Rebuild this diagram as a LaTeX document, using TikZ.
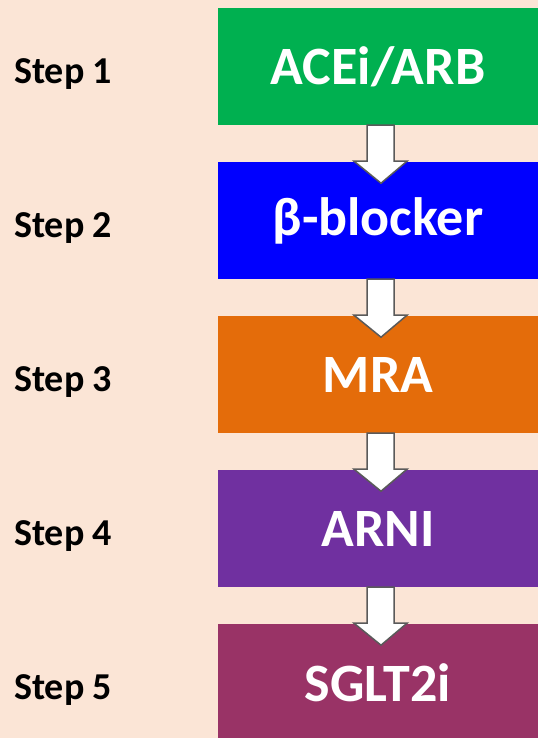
\documentclass[tikz,border=0pt]{standalone}
\usepackage{fontspec}
\setmainfont{Carlito}
\definecolor{bgc}{RGB}{251,229,214}
\definecolor{c1}{RGB}{0,176,80}
\definecolor{c2}{RGB}{0,0,255}
\definecolor{c3}{RGB}{228,108,10}
\definecolor{c4}{RGB}{112,48,160}
\definecolor{c5}{RGB}{153,51,102}
\definecolor{arrowedge}{RGB}{90,90,90}
\tikzset{
  drug/.style={fill=#1, draw=none, minimum width=320pt, minimum height=117pt, inner sep=0pt, text=white, font=\bfseries\fontsize{54}{58}\selectfont},
  steplabel/.style={anchor=west, inner sep=0pt, text=black, font=\bfseries\fontsize{38}{42}\selectfont},
  flowarrow/.style={fill=white, draw=arrowedge, line width=1.5pt, line join=miter}
}
\begin{document}
\begin{tikzpicture}[x=1pt,y=-1pt]
\fill[bgc] (0,0) rectangle (538,738);
\useasboundingbox (0,0) rectangle (538,738);
\foreach \i/\c/\t in {1/c1/{ACEi/ARB},2/c2/{β-blocker},3/c3/{MRA},4/c4/{ARNI},5/c5/{SGLT2i}}{
  \node[drug=\c] (b\i) at (378,{66.5+154*(\i-1)}) {\t};
  \node[steplabel] (s\i) at (14,{74+154*(\i-1)}) {Step \i};
}
\foreach \i in {1,2,3,4}{
  \draw[flowarrow] ([xshift=-11pt]b\i.south) -- ++(0,36) -- ++(-13,0) -- ([xshift=3pt,yshift=-58pt]b\i.south) -- ([xshift=29pt,yshift=-36pt]b\i.south) -- ++(-13,0) -- ([xshift=16pt]b\i.south) -- cycle;
}
\end{tikzpicture}
\end{document}
